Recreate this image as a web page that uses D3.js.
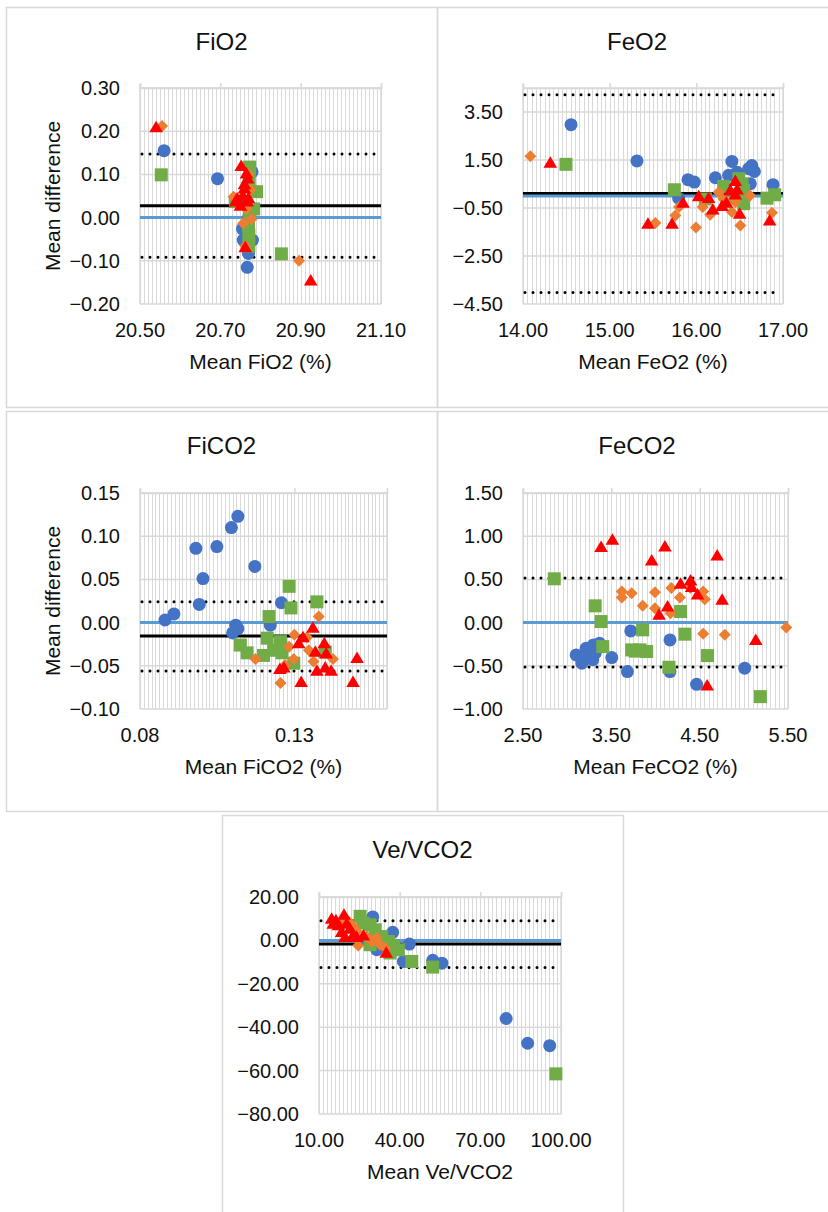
<!DOCTYPE html>
<html>
<head>
<meta charset="utf-8">
<script src="https://cdn.jsdelivr.net/npm/d3@7"></script>
<style>
  body { margin: 0; background: #fff; }
  svg text { font-family: "Liberation Sans", Arial, sans-serif; fill: #111; }
</style>
</head>
<body>
<div id="chart"></div>
<script>
// ---- data: [mean, difference] ----
// FiO2
const fio2Circles = [[20.56, 0.155], [20.693, 0.09], [20.767, -0.115], [20.779, 0.106], [20.755, -0.026], [20.757, -0.052], [20.78, -0.052], [20.77, -0.083], [20.765, -0.05], [20.77, 0.0], [20.762, 0.03]];
const fio2Squares = [[20.553, 0.099], [20.852, -0.084], [20.773, 0.117], [20.79, 0.06], [20.771, -0.04], [20.771, -0.066], [20.772, 0.01], [20.738, 0.037], [20.772, 0.088], [20.783, 0.02], [20.77, -0.02]];
const fio2Diamonds = [[20.555, 0.212], [20.896, -0.10], [20.757, -0.013], [20.778, -0.003], [20.733, 0.048], [20.775, 0.065], [20.77, 0.10], [20.762, -0.066], [20.745, 0.03], [20.765, 0.02]];
const fio2Triangles = [[20.54, 0.207], [20.925, -0.148], [20.752, 0.117], [20.762, -0.071], [20.768, 0.088], [20.76, 0.065], [20.738, 0.035], [20.75, 0.025], [20.767, 0.035], [20.756, 0.049], [20.77, 0.043], [20.742, 0.042], [20.76, 0.075], [20.765, 0.10]];
const fio2Stats = [0.0275, 0.147, -0.092]; // bias, upper, lower

// FeO2
const feo2Circles = [[14.554, 2.97], [15.315, 1.46], [15.904, 0.68], [15.977, 0.58], [16.22, 0.76], [16.373, 0.86], [16.41, 1.44], [16.604, 1.14], [16.64, 1.27], [16.67, 1.02], [16.623, 0.51], [16.885, 0.47], [15.796, -0.09], [16.47, 0.99]];
const feo2Squares = [[14.496, 1.32], [15.746, 0.26], [16.104, -0.12], [16.315, 0.40], [16.49, 0.72], [16.546, 0.23], [16.546, -0.32], [16.815, -0.09], [16.904, 0.05], [16.45, 0.02], [16.527, 0.51]];
const feo2Diamonds = [[14.085, 1.66], [15.527, -1.12], [15.758, -0.81], [15.8, -0.46], [15.996, -1.31], [16.073, -0.46], [16.16, -0.78], [16.258, 0.16], [16.41, -0.67], [16.508, -1.23], [16.873, -0.70], [16.315, -0.12], [16.45, -0.26], [16.62, 0.02]];
const feo2Triangles = [[14.315, 1.34], [15.442, -1.20], [15.72, -1.20], [15.846, -0.32], [16.027, -0.05], [16.142, -0.12], [16.19, -0.60], [16.296, -0.46], [16.346, -0.32], [16.392, 0.19], [16.45, 0.58], [16.45, 0.02], [16.5, -0.78], [16.846, -1.06], [16.47, 0.23]];
const feo2Stats = [0.1, 4.22, -4.02];

// FiCO2
const fico2Circles = [[0.0881, 0.003], [0.091, 0.010], [0.0981, 0.086], [0.0992, 0.021], [0.1004, 0.051], [0.1049, 0.088], [0.1096, 0.110], [0.1117, 0.123], [0.1172, 0.065], [0.111, -0.003], [0.1117, -0.007], [0.110, -0.012], [0.1222, -0.003], [0.1258, 0.023]];
const fico2Squares = [[0.1125, -0.026], [0.1147, -0.035], [0.120, -0.038], [0.1212, -0.018], [0.1218, 0.007], [0.1255, -0.022], [0.126, -0.035], [0.1283, 0.042], [0.1289, 0.017], [0.1298, -0.047], [0.1373, 0.024], [0.140, -0.034], [0.1233, -0.032]];
const fico2Diamonds = [[0.1174, -0.042], [0.1255, -0.070], [0.1283, -0.028], [0.130, -0.014], [0.1298, -0.042], [0.1341, -0.017], [0.1347, -0.032], [0.1362, -0.045], [0.1379, 0.007], [0.1425, -0.042], [0.127, -0.049]];
const fico2Triangles = [[0.1253, -0.055], [0.1266, -0.053], [0.1322, -0.070], [0.1314, -0.025], [0.1328, -0.018], [0.136, -0.007], [0.1368, -0.035], [0.1373, -0.057], [0.1397, -0.025], [0.1403, -0.037], [0.140, -0.053], [0.1419, -0.057], [0.149, -0.070], [0.1503, -0.042]];
const fico2Stats = [-0.0155, 0.024, -0.056];

// FeCO2
const feco2Circles = [[3.102, -0.374], [3.166, -0.47], [3.215, -0.297], [3.223, -0.41], [3.29, -0.43], [3.298, -0.258], [3.317, -0.355], [3.366, -0.24], [3.505, -0.405], [3.682, -0.567], [3.72, -0.096], [4.164, -0.20], [4.164, -0.567], [4.465, -0.714], [5.01, -0.528]];
const feco2Squares = [[2.854, 0.507], [3.317, 0.194], [3.384, 0.012], [3.403, -0.278], [3.73, -0.316], [3.825, -0.316], [3.855, -0.084], [3.9, -0.335], [4.152, -0.517], [4.284, 0.128], [4.333, -0.134], [4.589, -0.382], [5.187, -0.857], [3.77, -0.33]];
const feco2Diamonds = [[3.618, 0.36], [3.618, 0.29], [3.73, 0.34], [3.855, 0.194], [3.994, 0.35], [3.994, 0.167], [4.18, 0.40], [4.17, 0.109], [4.276, 0.29], [4.54, 0.36], [4.558, 0.27], [4.54, -0.13], [4.785, -0.142], [5.48, -0.057], [4.397, 0.40]];
const feco2Triangles = [[3.384, 0.862], [3.512, 0.948], [3.957, 0.708], [4.107, 0.87], [4.698, 0.766], [4.04, 0.078], [4.137, 0.175], [4.284, 0.437], [4.397, 0.476], [4.408, 0.40], [4.476, 0.314], [4.754, 0.252], [4.585, -0.741], [5.135, -0.212]];
const feco2Stats = [0.0, 0.515, -0.515];

// Ve/VCO2
const vevco2Circles = [[79.6, -36.0], [87.6, -47.4], [95.8, -48.5], [52.3, -9.2], [55.7, -10.5], [43.6, -1.7], [37.4, 3.7], [30.0, 10.8], [31.5, -4.3], [41.4, -9.7], [38.9, -4.3], [27.75, 0.3]];
const vevco2Squares = [[98.1, -61.5], [52.3, -12.3], [44.5, -9.7], [25.3, 11.1], [26.5, 8], [29, 7.2], [30.9, 4.9], [33.3, 1.8], [35.8, -0.5], [37.7, -2.8], [39.5, -4.3], [29, -2], [36.4, -5.8]];
const vevco2Diamonds = [[24.6, -2.3], [21.5, 8], [22.8, 6.5], [27.75, 1.8], [29.6, -0.5], [32.7, -2], [31.5, 1.1], [34.6, -3.5], [20.3, 9.5], [18.4, 7.2], [24, 4.2]];
const vevco2Triangles = [[19.3, 11.4], [16.3, 8.8], [15.3, 7.2], [17.2, 6.5], [18.4, 3.4], [19.7, 1.1], [21.5, 4.9], [22.8, 2.2], [26.5, 1.8], [24, 1.1], [35, -6.2], [20.3, 7.2], [14.7, 9.5]];
const vevco2Stats = [-1.7, 9.1, -12.5];

// ---- panel layout ----
const panels = [
  {title: 'FiO2', xTitle: 'Mean FiO2 (%)', yTitle: 'Mean difference',
   box: [6, 7, 431, 400], plot: [140, 88, 381, 304],
   xDomain: [20.5, 21.1], xMajor: 0.2, xMinor: 0.01, yDomain: [-0.2, 0.3], yMajor: 0.1,
   series: [fio2Circles, fio2Squares, fio2Diamonds, fio2Triangles], stats: fio2Stats},
  {title: 'FeO2', xTitle: 'Mean FeO2 (%)', yTitle: null,
   box: [437, 7, 400, 400], plot: [523, 88, 783, 304],
   xDomain: [14, 17], xMajor: 1, xMinor: 0.05, yDomain: [-4.5, 4.5], yMajor: 2,
   series: [feo2Circles, feo2Squares, feo2Diamonds, feo2Triangles], stats: feo2Stats},
  {title: 'FiCO2', xTitle: 'Mean FiCO2 (%)', yTitle: 'Mean difference',
   box: [6, 411, 431, 400], plot: [140, 493, 387, 709],
   xDomain: [0.08, 0.16], xMajor: 0.05, xMinor: 0.00125, yDomain: [-0.1, 0.15], yMajor: 0.05,
   series: [fico2Circles, fico2Squares, fico2Diamonds, fico2Triangles], stats: fico2Stats},
  {title: 'FeCO2', xTitle: 'Mean FeCO2 (%)', yTitle: null,
   box: [437, 411, 400, 400], plot: [523, 493, 788, 709],
   xDomain: [2.5, 5.5], xMajor: 1, xMinor: 0.05, yDomain: [-1, 1.5], yMajor: 0.5,
   series: [feco2Circles, feco2Squares, feco2Diamonds, feco2Triangles], stats: feco2Stats},
  {title: 'Ve/VCO2', xTitle: 'Mean Ve/VCO2', yTitle: null,
   box: [222, 815, 401, 410], plot: [319, 897, 561, 1114],
   xDomain: [10, 100], xMajor: 30, xMinor: 1.5, yDomain: [-80, 20], yMajor: 20,
   series: [vevco2Circles, vevco2Squares, vevco2Diamonds, vevco2Triangles], stats: vevco2Stats}
];

// marker styles in draw order: circles, squares, diamonds, triangles
const markers = [
  {color: '#4472c4', path: 'M6.5,0A6.5,6.5,0,1,1,-6.5,0A6.5,6.5,0,1,1,6.5,0Z'},
  {color: '#70ad47', path: 'M-6.5,-6.5H6.5V6.5H-6.5Z'},
  {color: '#ed7d31', path: 'M0,-6L6,0L0,6L-6,0Z'},
  {color: '#ff0000', path: 'M0,-7.5L6.8,4L-6.8,4Z'}
];

const gridColor = '#d9d9d9';
const fmt = d3.format('.2f');

const svg = d3.select('#chart').append('svg')
  .attr('width', 828)
  .attr('height', 1212);

function steps(min, max, step) {
  const n = Math.round((max - min) / step + 1e-9);
  return d3.range(0, n + 1).map(i => min + i * step);
}

function drawPanel(p) {
  const g = svg.append('g');
  const [x0, y0, x1, y1] = p.plot;

  // panel frame
  g.append('rect')
    .attr('x', p.box[0] + 0.5).attr('y', p.box[1] + 0.5)
    .attr('width', p.box[2]).attr('height', p.box[3])
    .attr('fill', 'none').attr('stroke', gridColor).attr('stroke-width', 1.5);

  const x = d3.scaleLinear().domain(p.xDomain).range([x0, x1]);
  const y = d3.scaleLinear().domain(p.yDomain).range([y1, y0]);

  // minor vertical gridlines
  g.append('g').selectAll('line')
    .data(steps(p.xDomain[0], p.xDomain[1], p.xMinor))
    .join('line')
    .attr('x1', d => Math.round(x(d)) + 0.5).attr('x2', d => Math.round(x(d)) + 0.5)
    .attr('y1', y0).attr('y2', y1)
    .attr('stroke', gridColor).attr('stroke-width', 1);

  // major horizontal gridlines (plus the top edge)
  const yTicks = steps(p.yDomain[0], p.yDomain[1], p.yMajor).filter(v => v <= p.yDomain[1] + 1e-9);
  g.append('g').selectAll('line')
    .data(yTicks.concat([p.yDomain[1]]))
    .join('line')
    .attr('x1', x0).attr('x2', x1)
    .attr('y1', d => y(d)).attr('y2', d => y(d))
    .attr('stroke', gridColor).attr('stroke-width', 1.5);

  // axis on top with outside ticks, labels low
  const xTicks = steps(p.xDomain[0], p.xDomain[1], p.xMajor).filter(v => v <= p.xDomain[1] + 1e-9);
  const xAxis = d3.axisTop(x).tickValues(xTicks).tickSize(5).tickFormat('');
  g.append('g')
    .attr('transform', `translate(0,${y0})`)
    .call(xAxis)
    .call(a => a.selectAll('path, line').attr('stroke', gridColor).attr('stroke-width', 1.5));
  g.append('line')
    .attr('x1', x0).attr('x2', x0).attr('y1', y0 - 4).attr('y2', y1)
    .attr('stroke', gridColor).attr('stroke-width', 1.5);
  g.append('line')
    .attr('x1', x1).attr('x2', x1).attr('y1', y0).attr('y2', y1)
    .attr('stroke', gridColor).attr('stroke-width', 1.5);

  g.append('g').selectAll('text')
    .data(xTicks)
    .join('text')
    .attr('x', d => x(d)).attr('y', y1 + 33)
    .attr('text-anchor', 'middle')
    .attr('font-size', 20)
    .text(d => fmt(d));

  g.append('g').selectAll('text')
    .data(yTicks)
    .join('text')
    .attr('x', x0 - 20).attr('y', d => y(d) + 7)
    .attr('text-anchor', 'end')
    .attr('font-size', 20)
    .text(d => fmt(d));

  // reference lines
  const [bias, upper, lower] = p.stats;
  [upper, lower].forEach(v => {
    g.append('line')
      .attr('x1', x0 + 2).attr('x2', x1 - 3)
      .attr('y1', y(v)).attr('y2', y(v))
      .attr('stroke', '#000').attr('stroke-width', 3)
      .attr('stroke-linecap', 'round').attr('stroke-dasharray', '0 8');
  });
  g.append('line')
    .attr('x1', x0).attr('x2', x1).attr('y1', y(bias)).attr('y2', y(bias))
    .attr('stroke', '#000').attr('stroke-width', 3);
  g.append('line')
    .attr('x1', x0).attr('x2', x1).attr('y1', y(0)).attr('y2', y(0))
    .attr('stroke', '#5b9bd5').attr('stroke-width', 3);

  // markers
  p.series.forEach((pts, i) => {
    g.append('g').selectAll('path')
      .data(pts)
      .join('path')
      .attr('transform', d => `translate(${x(d[0])},${y(d[1])})`)
      .attr('d', markers[i].path)
      .attr('fill', markers[i].color);
  });

  // titles
  g.append('text')
    .attr('x', p.box[0] + p.box[2] / 2).attr('y', p.box[1] + 43)
    .attr('text-anchor', 'middle').attr('font-size', 24)
    .text(p.title);
  g.append('text')
    .attr('x', (x0 + x1) / 2).attr('y', y1 + 65)
    .attr('text-anchor', 'middle').attr('font-size', 21)
    .text(p.xTitle);
  if (p.yTitle) {
    g.append('text')
      .attr('transform', `translate(60,${(y0 + y1) / 2}) rotate(-90)`)
      .attr('text-anchor', 'middle').attr('font-size', 21)
      .text(p.yTitle);
  }
}

panels.forEach(drawPanel);
</script>
</body>
</html>
